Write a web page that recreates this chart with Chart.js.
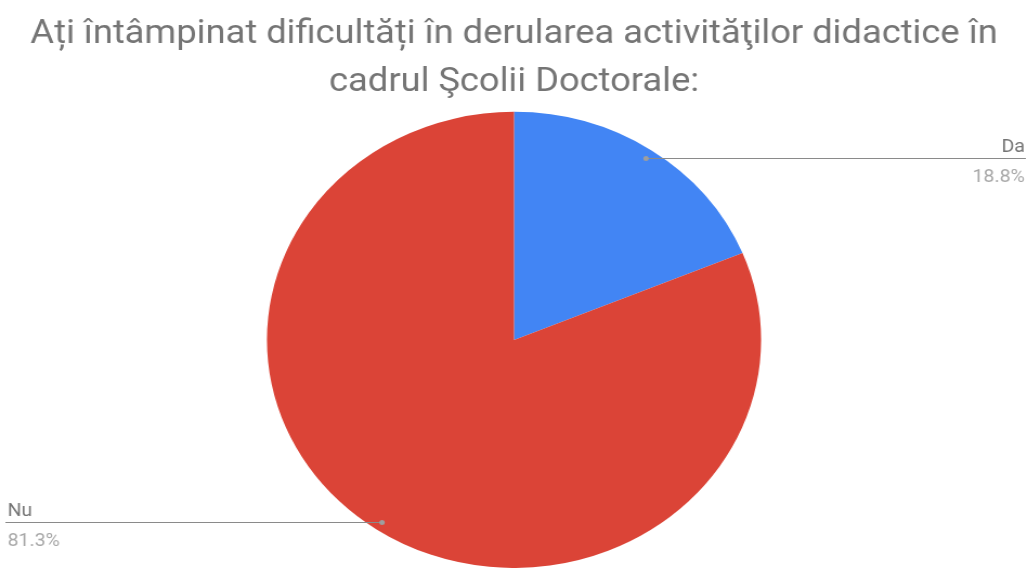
<!DOCTYPE html>
<html>
<head>
<meta charset="utf-8">
<script src="https://cdn.jsdelivr.net/npm/chart.js@4/dist/chart.umd.min.js"></script>
<style>
  html, body { margin: 0; padding: 0; background: #fff; overflow: hidden; }
  #wrap { width: 949px; height: 568px; transform: scaleX(1.0833); transform-origin: 0 0; }
</style>
</head>
<body>
<div id="wrap"><canvas id="pieChart"></canvas></div>
<script>
const titleLines = ["Ați întâmpinat dificultăți în derularea activităţilor didactice în", "cadrul Şcolii Doctorale:"];
const categories = ["Da", "Nu"];
const shares = [18.8, 81.3];
const percentLabels = ["18.8%", "81.3%"];
const sliceColors = ["#4285F4", "#DB4437"];

// leader lines + labels, google-charts style
const leaderLabels = {
  id: "leaderLabels",
  afterDatasetsDraw(chart) {
    const ctx = chart.ctx;
    const meta = chart.getDatasetMeta(0);
    meta.data.forEach((arc, i) => {
      const p = arc.getProps(["x", "y", "startAngle", "endAngle", "outerRadius"], true);
      const mid = (p.startAngle + p.endAngle) / 2;
      const px = p.x + Math.cos(mid) * p.outerRadius * 0.96;
      const py = p.y + Math.sin(mid) * p.outerRadius * 0.96;
      const right = Math.cos(mid) >= 0;
      const x0 = right ? px : 5;
      const x1 = right ? chart.width - 2 : px;
      ctx.save();
      ctx.strokeStyle = "#8a8a8a";
      ctx.lineWidth = 1;
      ctx.beginPath();
      ctx.moveTo(x0, Math.round(py) + 0.5);
      ctx.lineTo(x1, Math.round(py) + 0.5);
      ctx.stroke();
      ctx.fillStyle = "#9e9e9e";
      ctx.beginPath();
      ctx.arc(px, Math.round(py) + 0.5, 2.5, 0, Math.PI * 2);
      ctx.fill();
      ctx.font = "18px Roboto";
      ctx.textAlign = right ? "right" : "left";
      const tx = right ? chart.width - 3 : 7;
      ctx.textBaseline = "alphabetic";
      ctx.fillStyle = "#757575";
      ctx.fillText(categories[i], tx, py - 6);
      ctx.fillStyle = "#a8a8a8";
      ctx.fillText(percentLabels[i], tx, py + 24);
      ctx.restore();
    });
  }
};

new Chart(document.getElementById("pieChart"), {
  type: "pie",
  data: {
    labels: categories,
    datasets: [{
      data: shares,
      backgroundColor: sliceColors,
      borderWidth: 0
    }]
  },
  options: {
    responsive: true,
    maintainAspectRatio: false,
    animation: false,
    layout: { padding: 0 },
    plugins: {
      legend: { display: false },
      tooltip: { enabled: false },
      title: {
        display: true,
        text: titleLines,
        color: "#757575",
        font: { family: "Roboto", size: 33.5, weight: "normal", lineHeight: 1.43 },
        padding: { top: 11, bottom: 5 }
      }
    }
  },
  plugins: [leaderLabels]
});
</script>
</body>
</html>
